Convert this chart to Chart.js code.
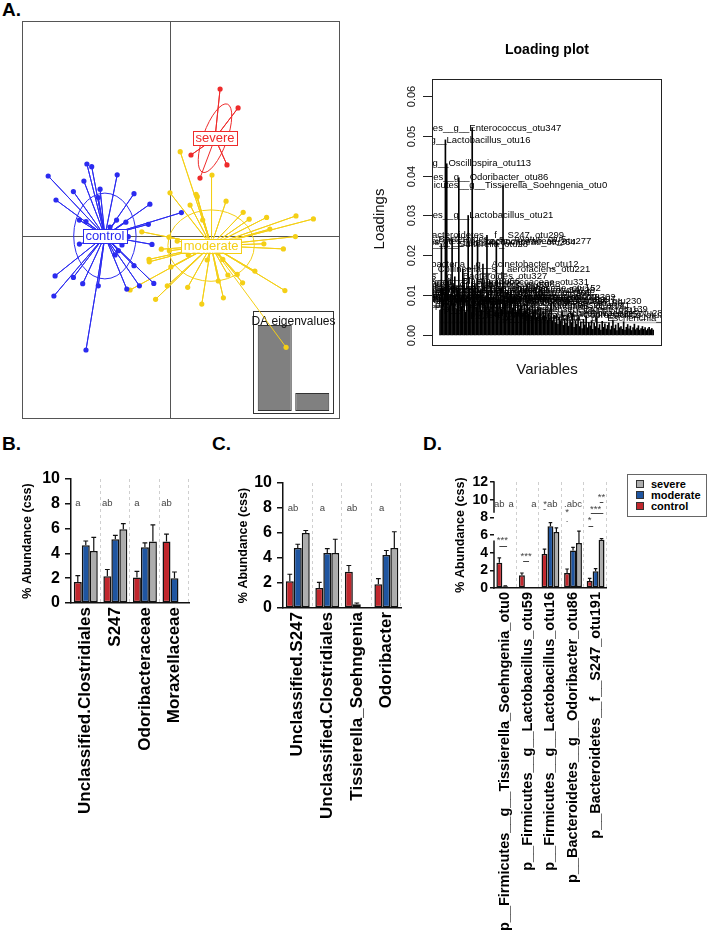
<!DOCTYPE html>
<html>
<head>
<meta charset="utf-8">
<title>DAPC and abundance panels</title>
<script src="https://cdn.jsdelivr.net/npm/chart.js@4.4.1/dist/chart.umd.min.js"></script>
<style>
  body { margin: 0; width: 709px; height: 934px; position: relative; overflow: hidden; background: #fff;
         font-family: "Liberation Sans", Arial, Helvetica, sans-serif; }
  canvas, .tag, #legendD { position: absolute; }
  .tag { font-weight: bold; font-size: 19px; line-height: 19px; }
  #legendD { border: 1px solid #666; font-size: 11px; font-weight: bold; line-height: 11px;
             padding: 4px 0 0 8px; box-sizing: border-box; }
  #legendD div { height: 11px; white-space: nowrap; }
  #legendD span { display: inline-block; width: 6px; height: 6px; border: 1px solid #333;
                  margin-right: 7px; vertical-align: 0px; }
</style>
</head>
<body>
<div class="tag" style="left:2px;top:0px">A.</div>
<div class="tag" style="left:2px;top:434px">B.</div>
<div class="tag" style="left:212px;top:434px">C.</div>
<div class="tag" style="left:423px;top:434px">D.</div>

<canvas id="eigenChart" width="92" height="112" style="left:248px;top:305px"></canvas>
<canvas id="daChart" width="360" height="440" style="left:0;top:0"></canvas>
<canvas id="loadChart" width="349" height="390" style="left:360px;top:0"></canvas>
<canvas id="chartB" width="200" height="420" style="left:0;top:440px"></canvas>
<canvas id="chartC" width="200" height="420" style="left:212px;top:440px"></canvas>
<canvas id="chartD" width="195" height="494" style="left:423px;top:440px"></canvas>
<div id="legendD" style="left:627px;top:474px;width:80px;height:43px"></div>

<script>
const FONT = '"Liberation Sans", Arial, Helvetica, sans-serif';
Chart.defaults.font.family = FONT;
Chart.defaults.color = '#000';
Chart.defaults.animation = false;

// ---------- A: discriminant analysis scores ----------
const groups = ['control', 'moderate', 'severe'];
const groupColours = ['#2b2bf0', '#f4cf16', '#ee2b2b'];

const controlCentre = [-2.17, 0.0];
const controlLD1 = [-4.06, -3.80, -3.22, -2.87, -2.77, -2.61, -2.33, -2.39, -1.76, -1.20, -0.67, 0.38,
  -0.72, -1.47, -1.78, -3.02, -2.80, -3.02, -0.60, -1.20, -0.54, -1.02, -1.44, -2.39, -2.91, -3.22,
  -3.83, -3.87, -2.80, -1.83, -1.72, -1.39, -1.60, -2.00];
const controlLD2 = [2.00, 1.20, 1.48, 1.83, 2.40, 2.31, 1.56, 1.28, 2.04, 1.41, 1.06, 0.78,
  0.39, 0.46, 0.53, 0.53, 0.48, -0.27, -0.28, -0.99, -1.58, -1.66, -1.77, -1.66, -1.59, -1.38,
  -1.33, -2.00, -3.80, -0.63, -0.49, -0.02, -0.30, 0.30];

const moderateCentre = [1.37, -0.32];
const moderateLD1 = [0.34, 1.40, 0.00, 0.87, 0.91, 1.87, 0.67, 1.09, 2.44, 2.64, 3.22, 4.20, 4.78,
  3.33, 4.18, 3.13, 3.78, -0.94, -0.03, 0.24, -0.29, -0.02, -0.70, -0.69, 0.03, 0.61, 1.61, 1.76,
  2.83, 2.24, 1.93, 2.42, 1.61, 1.24, 0.59, -0.09, -0.48, 1.06, 1.78, 3.83, -1.33, 3.87];
const moderateLD2 = [2.81, 2.03, 1.44, 1.39, 1.31, 1.16, 1.03, 0.53, 0.79, 0.56, 0.62, 0.67, 0.57,
  0.23, -0.02, -0.26, -0.43, 0.14, -0.04, -0.17, -0.44, -0.49, -0.78, -0.86, -1.03, -0.63, -0.56,
  -0.78, -1.17, -1.28, -1.30, -1.56, -1.50, -0.80, -1.71, -1.66, -2.11, -2.27, -2.06, -1.82, -1.80, -3.71];

const severeCentre = [1.50, 3.26];
const severeLD1 = [1.67, 2.27, 0.70, 1.90, 1.00];
const severeLD2 = [4.90, 4.27, 2.70, 2.37, 1.93];

const eigenvalues = [4.32, 0.90];

const centres = [controlCentre, moderateCentre, severeCentre];
const ld1 = [controlLD1, moderateLD1, severeLD1];
const ld2 = [controlLD2, moderateLD2, severeLD2];
// inertia ellipses: half-axes in score units, tilt in degrees
const ellipses = [[1.04, 1.43, 0], [1.44, 1.19, 0], [0.40, 1.21, 20]];

const daDatasets = [];
groups.forEach((g, k) => {
  const pts = ld1[k].map((v, i) => ({x: v, y: ld2[k][i]}));
  daDatasets.push({data: pts, showLine: false, pointRadius: 2.6, pointBorderWidth: 0,
    pointBackgroundColor: groupColours[k], order: 0});
  const star = [];
  pts.forEach(p => star.push({x: centres[k][0], y: centres[k][1]}, p));
  daDatasets.push({data: star, showLine: true, pointRadius: 0, borderWidth: 1,
    borderColor: groupColours[k], order: 1});
});

const daDecor = {
  id: 'daDecor',
  beforeDatasetsDraw(chart) {
    const {ctx, chartArea: a, scales: {x, y}} = chart;
    ctx.save();
    ctx.strokeStyle = '#555';
    ctx.lineWidth = 1;
    ctx.strokeRect(a.left + 0.5, a.top + 0.5, a.width - 1, a.height - 1);
    const x0 = Math.round(x.getPixelForValue(0)) + 0.5;
    const y0 = Math.round(y.getPixelForValue(0)) + 0.5;
    ctx.beginPath();
    ctx.moveTo(x0, a.top); ctx.lineTo(x0, a.bottom);
    ctx.moveTo(a.left, y0); ctx.lineTo(a.right, y0);
    ctx.stroke();
    ellipses.forEach(([rx, ry, tilt], k) => {
      const cx = x.getPixelForValue(centres[k][0]), cy = y.getPixelForValue(centres[k][1]);
      const prx = Math.abs(x.getPixelForValue(centres[k][0] + rx) - cx);
      const pry = Math.abs(y.getPixelForValue(centres[k][1] + ry) - cy);
      ctx.strokeStyle = groupColours[k];
      ctx.beginPath();
      ctx.ellipse(cx, cy, prx, pry, tilt * Math.PI / 180, 0, Math.PI * 2);
      ctx.stroke();
    });
    ctx.restore();
  },
  afterDatasetsDraw(chart) {
    const {ctx, scales: {x, y}} = chart;
    ctx.save();
    ctx.font = `13px ${FONT}`;
    ctx.textAlign = 'center';
    ctx.textBaseline = 'middle';
    groups.forEach((g, k) => {
      const cx = x.getPixelForValue(centres[k][0]), cy = y.getPixelForValue(centres[k][1]);
      const w = ctx.measureText(g).width + 5, h = 14;
      ctx.fillStyle = '#fff';
      ctx.fillRect(cx - w / 2, cy - h / 2, w, h);
      ctx.strokeStyle = groupColours[k];
      ctx.lineWidth = 1;
      ctx.strokeRect(Math.round(cx - w / 2) + 0.5, Math.round(cy - h / 2) + 0.5, Math.round(w), h);
      ctx.fillStyle = groupColours[k];
      ctx.fillText(g, cx, cy + 0.5);
    });
    ctx.restore();
  }
};

new Chart(document.getElementById('daChart'), {
  type: 'scatter',
  data: {datasets: daDatasets},
  options: {
    responsive: false,
    layout: {padding: {left: 22, top: 21, right: 20, bottom: 21}},
    scales: {
      x: {display: false, min: -4.933, max: 5.667},
      y: {display: false, min: -6.1, max: 7.167}
    },
    plugins: {legend: {display: false}, tooltip: {enabled: false}}
  },
  plugins: [daDecor]
});

const eigenFrame = {
  id: 'eigenFrame',
  afterDraw(chart) {
    const {ctx, chartArea: a} = chart;
    ctx.save();
    ctx.strokeStyle = '#333';
    ctx.lineWidth = 1;
    ctx.strokeRect(a.left - 2.5, a.top - 13.5, a.width + 5, a.height + 16);
    ctx.fillStyle = '#111';
    ctx.font = `12px ${FONT}`;
    ctx.textAlign = 'center';
    ctx.textBaseline = 'middle';
    ctx.fillText('DA eigenvalues', (a.left + a.right) / 2, a.top - 3);
    ctx.restore();
  }
};

new Chart(document.getElementById('eigenChart'), {
  type: 'bar',
  data: {labels: ['1', '2'], datasets: [{data: eigenvalues, backgroundColor: '#808080',
    borderColor: '#333', borderWidth: 1, borderSkipped: false, barPercentage: 0.907, categoryPercentage: 1}]},
  options: {
    responsive: false,
    layout: {padding: {left: 8, right: 9, top: 20, bottom: 6}},
    scales: {x: {display: false}, y: {display: false, min: 0, max: eigenvalues[0]}},
    plugins: {legend: {display: false}, tooltip: {enabled: false}}
  },
  plugins: [eigenFrame]
});

// ---------- A: loading plot ----------
const loadings = [
  0.0062, 0.0228, 0.0118, 0.0089, 0.0490, 0.0430, 0.0135, 0.0074, 0.0102, 0.0241,
  0.0081, 0.0146, 0.0066, 0.0112, 0.0395, 0.0093, 0.0071, 0.0165, 0.0125, 0.0058,
  0.0086, 0.0300, 0.0104, 0.0077, 0.0520, 0.0095, 0.0128, 0.0069, 0.0233, 0.0084,
  0.0113, 0.0062, 0.0178, 0.0091, 0.0074, 0.0250, 0.0108, 0.0066, 0.0133, 0.0082,
  0.0097, 0.0058, 0.0236, 0.0089, 0.0071, 0.0118, 0.0064, 0.0375, 0.0093, 0.0079,
  0.0105, 0.0061, 0.0087, 0.0112, 0.0068, 0.0075, 0.0094, 0.0057, 0.0083, 0.0066,
  0.0095, 0.0072, 0.0054, 0.0079, 0.0061, 0.0088, 0.0052, 0.0069, 0.0047, 0.0074,
  0.0058, 0.0063, 0.0045, 0.0071, 0.0052, 0.0066, 0.0041, 0.0059, 0.0048, 0.0064,
  0.0038, 0.0055, 0.0043, 0.0085, 0.0036, 0.0049, 0.0031, 0.0052, 0.0027, 0.0044,
  0.0035, 0.0058, 0.0024, 0.0041, 0.0029, 0.0047, 0.0022, 0.0038, 0.0031, 0.0053,
  0.0019, 0.0036, 0.0027, 0.0044, 0.0021, 0.0033, 0.0016, 0.0039, 0.0025, 0.0048,
  0.0018, 0.0031, 0.0023, 0.0036, 0.0014, 0.0029, 0.0021, 0.0042, 0.0017, 0.0026,
  0.0012, 0.0034, 0.0019, 0.0028, 0.0015, 0.0024, 0.0031, 0.0013, 0.0022, 0.0037,
  0.0016, 0.0025, 0.0011, 0.0029, 0.0018, 0.0021, 0.0014, 0.0033, 0.0012, 0.0019,
  0.0026, 0.0015, 0.0022, 0.0011, 0.0018, 0.0027, 0.0013, 0.0017, 0.0023, 0.0012,
  0.0016, 0.0021, 0.0014, 0.0018, 0.0011, 0.0015, 0.0019, 0.0013, 0.0016, 0.0012
];
const loadingThreshold = 0.0031;
const loadingTicks = [0, 0.01, 0.02, 0.03, 0.04, 0.05, 0.06];
const loadingLabelIdx = [24, 4, 5, 14, 47, 21, 35, 9, 42, 28, 1, 32, 17, 11, 38, 53, 60, 83,
  2, 3, 6, 8, 10, 13, 15, 18, 20, 22, 26, 30, 33, 36, 40, 43, 45, 48, 50, 52, 56, 58, 63, 65,
  69, 73, 79, 87, 91, 99, 109, 117];
const loadingLabelText = [
  'p__Firmicutes__g__Enterococcus_otu347', 'p__Firmicutes__g__Lactobacillus_otu16',
  'p__Firmicutes__g__Oscillospira_otu113', 'p__Bacteroidetes__g__Odoribacter_otu86',
  'p__Firmicutes__g__Tissierella_Soehngenia_otu0', 'p__Firmicutes__g__Lactobacillus_otu21',
  'p__Bacteroidetes__f__S247_otu299', 'p__Bacteroidetes__g__Bacteroides__s__ovatus_otu5',
  'p__Firmicutes__f__Lachnospiraceae_otu277', 'p__Firmicutes__f__Ruminococcaceae_otu264',
  'p__Proteobacteria__g__Sutterella_otu28', 'p__Proteobacteria__g__Acinetobacter_otu12',
  'p__Actinobacteria__g__Collinsella__s__aerofaciens_otu221', 'p__Bacteroidetes__g__Bacteroides_otu327',
  'p__Firmicutes__f__Ruminococcaceae_otu331', 'p__Firmicutes__g__Clostridium_otu128',
  'p__Firmicutes__f__Lachnospiraceae_otu302', 'p__Firmicutes__g__Streptococcus_otu230',
  'p__Firmicutes__f__Ruminococcaceae_otu104', 'p__Firmicutes__o__Clostridiales_otu38',
  'p__Firmicutes__g__Blautia_otu66', 'p__Bacteroidetes__f__S247_otu191',
  'p__Firmicutes__f__Lachnospiraceae_otu71', 'p__Firmicutes__g__Ruminococcus_otu142',
  'p__Bacteroidetes__g__Prevotella_otu93', 'p__Firmicutes__g__Lactobacillus_otu59',
  'p__Firmicutes__o__Clostridiales_otu47', 'p__Tenericutes__o__RF39_otu115',
  'p__Firmicutes__g__Coprococcus_otu88', 'p__Bacteroidetes__g__Parabacteroides_otu54',
  'p__Firmicutes__g__Dorea_otu176', 'p__Firmicutes__f__Peptostreptococcaceae_otu9',
  'p__Proteobacteria__g__Desulfovibrio_otu35', 'p__Firmicutes__g__Turicibacter_otu19',
  'p__Firmicutes__f__Erysipelotrichaceae_otu152', 'p__Bacteroidetes__f__Rikenellaceae_otu77',
  'p__Firmicutes__g__Clostridium_otu201', 'p__Firmicutes__f__Lachnospiraceae_otu163',
  'p__Firmicutes__g__Oscillospira_otu248', 'p__Bacteroidetes__g__Bacteroides_otu14',
  'p__Firmicutes__f__Ruminococcaceae_otu186', 'p__Firmicutes__g__Ruminococcus_otu97',
  'p__Verrucomicrobia__g__Akkermansia_otu41', 'p__Firmicutes__o__Clostridiales_otu212',
  'p__Firmicutes__f__Christensenellaceae_otu139', 'p__Firmicutes__g__Allobaculum_otu257',
  'p__Bacteroidetes__f__S247_otu318', 'p__Firmicutes__f__Lachnospiraceae_otu284',
  'p__Firmicutes__g__Coprobacillus_otu305', 'p__Proteobacteria__g__Escherichia_otu273'
];

const loadingDecor = {
  id: 'loadingDecor',
  beforeDatasetsDraw(chart) {
    const {ctx, chartArea: a, scales: {x, y}} = chart;
    ctx.save();
    ctx.strokeStyle = '#bdbdbd';
    ctx.lineWidth = 1.5;
    const py = y.getPixelForValue(loadingThreshold);
    ctx.beginPath();
    ctx.moveTo(x.getPixelForValue(0), py);
    ctx.lineTo(a.right, py);
    ctx.stroke();
    ctx.restore();
  },
  afterDraw(chart) {
    const {ctx, chartArea: a, scales: {x, y}} = chart;
    ctx.save();
    // variable names, clipped to the plot box
    ctx.save();
    ctx.beginPath();
    ctx.rect(a.left, a.top, a.width, a.height);
    ctx.clip();
    ctx.fillStyle = '#000';
    ctx.font = `9.5px ${FONT}`;
    ctx.textAlign = 'center';
    ctx.textBaseline = 'middle';
    loadingLabelIdx.forEach((idx, i) => {
      ctx.fillText(loadingLabelText[i], x.getPixelForValue(idx), y.getPixelForValue(loadings[idx]));
    });
    ctx.restore();
    // box and axis
    ctx.strokeStyle = '#222';
    ctx.lineWidth = 1;
    ctx.strokeRect(a.left + 0.5, a.top + 0.5, a.width - 1, a.height - 1);
    ctx.font = `11px ${FONT}`;
    ctx.fillStyle = '#111';
    ctx.textAlign = 'center';
    ctx.textBaseline = 'middle';
    loadingTicks.forEach(v => {
      const py = Math.round(y.getPixelForValue(v)) + 0.5;
      ctx.beginPath();
      ctx.moveTo(a.left - 9, py); ctx.lineTo(a.left, py);
      ctx.stroke();
      ctx.save();
      ctx.translate(a.left - 20, py);
      ctx.rotate(-Math.PI / 2);
      ctx.fillText(v.toFixed(2), 0, 0);
      ctx.restore();
    });
    ctx.font = `15px ${FONT}`;
    ctx.fillText('Variables', (a.left + a.right) / 2, 370);
    ctx.save();
    ctx.translate(20, 219);
    ctx.rotate(-Math.PI / 2);
    ctx.fillText('Loadings', 0, 0);
    ctx.restore();
    ctx.font = `bold 14px ${FONT}`;
    ctx.fillStyle = '#000';
    ctx.fillText('Loading plot', (a.left + a.right) / 2, 50);
    ctx.restore();
  }
};

new Chart(document.getElementById('loadChart'), {
  type: 'bar',
  data: {datasets: [{data: loadings.map((v, i) => ({x: i, y: v})), backgroundColor: '#000',
    barThickness: 1, borderWidth: 0}]},
  options: {
    responsive: false,
    layout: {padding: {left: 72, top: 79, right: 47, bottom: 44}},
    scales: {
      x: {type: 'linear', display: false, min: -6, max: 165.6, offset: false},
      y: {display: false, min: -0.0028, max: 0.0643}
    },
    plugins: {legend: {display: false}, tooltip: {enabled: false}}
  },
  plugins: [loadingDecor]
});

// ---------- B, C, D: abundance bar charts ----------
const barColours = ['#c1272d', '#1f55a0', '#adadad'];

const bCategories = ['Unclassified.Clostridiales', 'S247', 'Odoribacteraceae', 'Moraxellaceae'];
const bControl = [1.70, 2.15, 2.05, 4.95];
const bModerate = [4.65, 5.15, 4.50, 2.00];
const bSevere = [4.20, 5.95, 4.95, 0];
const bControlSE = [0.50, 0.55, 0.50, 0.60];
const bModerateSE = [0.35, 0.30, 0.35, 0.50];
const bSevereSE = [1.10, 0.45, 1.35, 0];
const bLetters = ['a', 'ab', 'a', 'ab'];

const cCategories = ['Unclassified.S247', 'Unclassified.Clostridiales', 'Tissierella_Soehngenia', 'Odoribacter'];
const cControl = [2.15, 1.60, 2.90, 1.90];
const cModerate = [4.80, 4.40, 0.30, 4.25];
const cSevere = [6.00, 4.40, 0.02, 4.80];
const cControlSE = [0.55, 0.45, 0.50, 0.45];
const cModerateSE = [0.30, 0.35, 0.10, 0.35];
const cSevereSE = [0.20, 1.10, 0, 1.30];
const cLetters = ['ab', 'a', 'ab', 'a'];

const dCategories = ['p__Firmicutes__g__Tissierella_Soehngenia_otu0', 'p__Firmicutes__g__Lactobacillus_otu59',
  'p__Firmicutes__g__Lactobacillus_otu16', 'p__Bacteroidetes__g__Odoribacter_otu86', 'p__Bacteroidetes__f__S247_otu191'];
const dControl = [2.85, 1.45, 3.85, 1.70, 0.80];
const dModerate = [0.20, 0, 7.00, 4.25, 1.90];
const dSevere = [0.05, 0, 6.35, 5.10, 5.45];
const dControlSE = [0.55, 0.25, 0.55, 0.45, 0.30];
const dModerateSE = [0.05, 0, 0.40, 0.35, 0.30];
const dSevereSE = [0, 0, 0.45, 1.35, 0.15];
// [category, bar slot, value, text]
const dMarks = [[0, 0, 9.5, 'ab'], [0, 2, 9.5, 'a'], [1, 2, 9.5, 'a'], [2, 1, 9.5, '*ab'], [2, 0, 8.9, '-'],
  [3, 1, 9.5, '.abc'], [3, 0, 8.6, '*'], [3, 0, 7.8, '.'], [4, 2, 10.3, '**'], [4, 1, 8.95, '***'],
  [4, 0, 7.7, '*'], [0, 0.5, 5.4, '***'], [1, 0.7, 3.6, '***']];
// [category, from slot, to slot, value]
const dSigLines = [[4, 1.7, 2.3, 9.7], [4, 0.2, 2.3, 8.5], [4, -0.2, 0.6, 7.0], [0, 0, 1.3, 4.75], [1, 0.2, 1.2, 3.05]];
// the D value axis is only drawn over these stretches
const dAxisSegments = [[0, 5.3], [8.6, 12]];

const barDecor = {
  id: 'barDecor',
  beforeDatasetsDraw(chart) {
    const {ctx, chartArea: a} = chart;
    const n = chart.data.labels.length, w = a.width / n;
    ctx.save();
    ctx.strokeStyle = '#cfcfcf';
    ctx.lineWidth = 1;
    ctx.setLineDash([3, 3]);
    for (let i = 1; i <= n; i++) {
      const px = Math.round(a.left + i * w) - 0.5;
      ctx.beginPath();
      ctx.moveTo(px, a.top); ctx.lineTo(px, a.bottom);
      ctx.stroke();
    }
    ctx.restore();
  },
  afterDatasetsDraw(chart, args, o) {
    const {ctx, chartArea: a, scales: {y}} = chart;
    ctx.save();
    if (o.axis) {
      ctx.strokeStyle = '#111';
      ctx.lineWidth = 1.5;
      o.axis.forEach(([v0, v1]) => {
        ctx.beginPath();
        ctx.moveTo(a.left, y.getPixelForValue(v0) + 0.75);
        ctx.lineTo(a.left, y.getPixelForValue(v1) - 0.75);
        ctx.stroke();
      });
    }
    ctx.strokeStyle = '#111';
    ctx.lineWidth = 1.2;
    o.errors.forEach((se, d) => {
      const meta = chart.getDatasetMeta(d);
      se.forEach((e, i) => {
        if (!e) return;
        const bar = meta.data[i];
        const top = y.getPixelForValue(chart.data.datasets[d].data[i] + e);
        const cap = bar.width * 0.3;
        ctx.beginPath();
        ctx.moveTo(bar.x, bar.y); ctx.lineTo(bar.x, top);
        ctx.moveTo(bar.x - cap, top); ctx.lineTo(bar.x + cap, top);
        ctx.stroke();
      });
    });
    const slotX = (c, b) => {
      const x0 = chart.getDatasetMeta(0).data[c].x, x1 = chart.getDatasetMeta(1).data[c].x;
      return x0 + b * (x1 - x0);
    };
    ctx.fillStyle = '#444';
    ctx.font = `9.5px ${FONT}`;
    ctx.textAlign = 'center';
    ctx.textBaseline = 'middle';
    o.marks.forEach(([c, b, v, t]) => ctx.fillText(t, slotX(c, b), y.getPixelForValue(v)));
    ctx.strokeStyle = '#444';
    ctx.lineWidth = 1;
    o.lines.forEach(([c, b0, b1, v]) => {
      const py = Math.round(y.getPixelForValue(v)) + 0.5;
      ctx.beginPath();
      ctx.moveTo(slotX(c, b0), py); ctx.lineTo(slotX(c, b1), py);
      ctx.stroke();
    });
    ctx.restore();
  }
};

function abundanceChart(id, cats, series, errors, marks, lines, cfg) {
  return new Chart(document.getElementById(id), {
    type: 'bar',
    data: {
      labels: cats,
      datasets: series.map((s, k) => ({label: groups[k], data: s, backgroundColor: barColours[k],
        borderColor: '#111', borderWidth: 1.5, borderSkipped: false,
        categoryPercentage: cfg.catPct, barPercentage: 1}))
    },
    options: {
      responsive: false,
      layout: {padding: {top: cfg.padTop, right: cfg.padRight, left: 0, bottom: 0}},
      scales: {
        x: {
          ticks: {minRotation: 90, maxRotation: 90, autoSkip: false, padding: 4, color: '#000',
            font: {size: cfg.labelSize, weight: 'bold'}},
          grid: {display: false, drawTicks: false},
          border: {display: true, color: '#111', width: 1.5},
          afterFit: s => { s.height = cfg.xHeight; }
        },
        y: {
          min: 0, max: cfg.yMax,
          ticks: {stepSize: 2, autoSkip: false, padding: cfg.tickPad, color: '#000',
            font: {size: cfg.tickSize, weight: 'bold'}},
          grid: {drawOnChartArea: false, drawTicks: true, tickLength: cfg.tickLen, color: '#111', lineWidth: 1.5},
          border: {display: !cfg.axis, color: '#111', width: 1.5},
          title: {display: true, text: '% Abundance (css)', color: '#000',
            font: {size: 12.5, weight: 'bold'}, padding: {top: cfg.titlePad, bottom: 0}},
          afterFit: s => { s.width = 71; }
        }
      },
      plugins: {legend: {display: false}, tooltip: {enabled: false},
        barDecor: {errors: errors, marks: marks, lines: lines, axis: cfg.axis}}
    },
    plugins: [barDecor]
  });
}

abundanceChart('chartB', bCategories, [bControl, bModerate, bSevere],
  [bControlSE, bModerateSE, bSevereSE], bLetters.map((t, i) => [i, 0, 8, t]), [],
  {catPct: 0.81, padTop: 39, padRight: 9, xHeight: 257, yMax: 10, labelSize: 17,
   tickSize: 16, tickPad: 5, tickLen: 6, titlePad: 20.5});

abundanceChart('chartC', cCategories, [cControl, cModerate, cSevere],
  [cControlSE, cModerateSE, cSevereSE], cLetters.map((t, i) => [i, 0.4, 8, t]), [],
  {catPct: 0.81, padTop: 43, padRight: 10, xHeight: 252, yMax: 10, labelSize: 17,
   tickSize: 16, tickPad: 5, tickLen: 6, titlePad: 24.5});

abundanceChart('chartD', dCategories, [dControl, dModerate, dSevere],
  [dControlSE, dModerateSE, dSevereSE], dMarks, dSigLines,
  {catPct: 0.79, padTop: 42, padRight: 10, xHeight: 346, yMax: 12, labelSize: 14.5,
   tickSize: 14, tickPad: 2, tickLen: 4, titlePad: 30.5, axis: dAxisSegments});

// legend for D, listed top-down as severe, moderate, control
const legendBox = document.getElementById('legendD');
[2, 1, 0].forEach(k => {
  const row = document.createElement('div');
  const sw = document.createElement('span');
  sw.style.background = barColours[k];
  row.appendChild(sw);
  row.appendChild(document.createTextNode(groups[k]));
  legendBox.appendChild(row);
});
</script>
</body>
</html>
